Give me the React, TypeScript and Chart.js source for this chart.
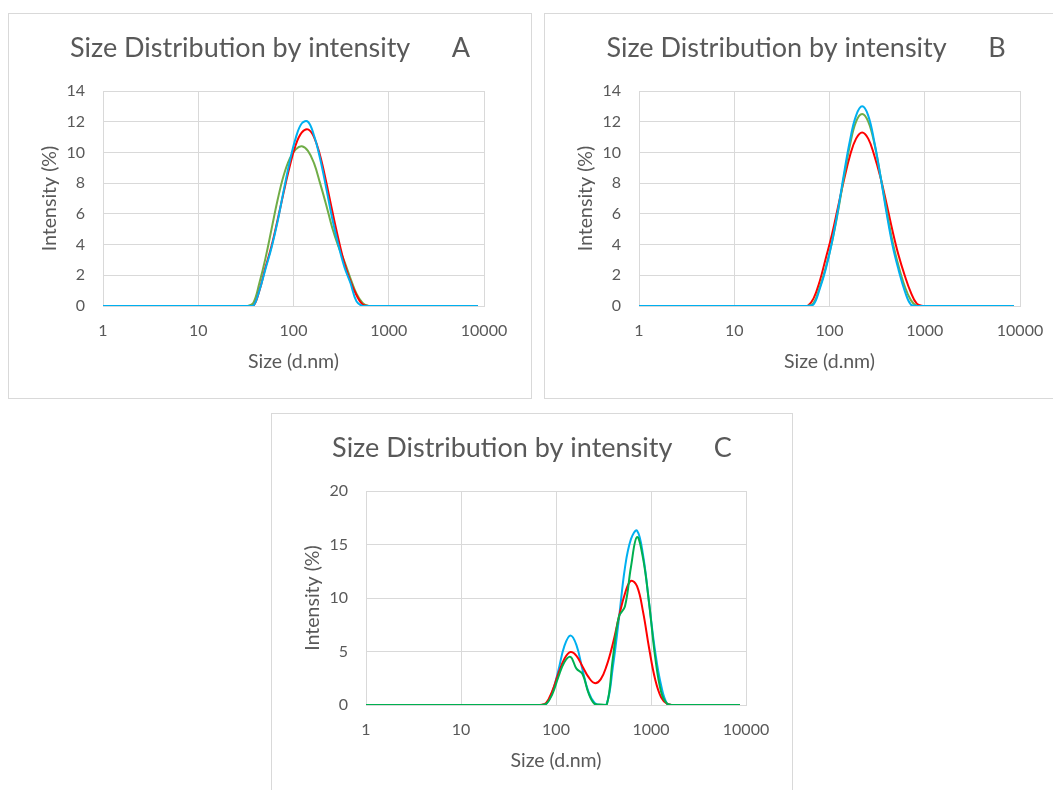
import React, { useEffect, useRef } from "react";
import { Chart, registerables } from "chart.js";

Chart.register(...registerables);

// Particle size bins (d.nm) of the DLS distribution
const sizes = [
  0.9649, 1.117, 1.294, 1.499, 1.736, 2.01, 2.328, 2.696, 3.122, 3.615,
  4.187, 4.849, 5.615, 6.503, 7.531, 8.721, 10.1, 11.7, 13.54, 15.69,
  18.17, 21.04, 24.36, 28.21, 32.67, 37.84, 43.82, 50.75, 58.77, 68.06,
  78.82, 91.28, 105.7, 122.4, 141.8, 164.2, 190.1, 220.2, 255.0, 295.3,
  342.0, 396.1, 458.7, 531.2, 615.1, 712.4, 825.0, 955.4, 1106, 1281,
  1484, 1718, 1990, 2305, 2669, 3091, 3580, 4145, 4801, 5560,
  6439, 7456, 8635,
];

const xTickValues = [1, 10, 100, 1000, 10000];

// Panel A
const blueA = [
  0, 0, 0, 0, 0, 0, 0, 0, 0, 0,
  0, 0, 0, 0, 0, 0, 0, 0, 0, 0,
  0, 0, 0, 0, 0, 0, 1.0, 2.4, 3.8, 5.5,
  7.5, 9.4, 10.95, 11.9, 12.0, 11.1, 9.6, 7.7, 5.7, 4.0,
  2.55, 1.5, 0.3, 0, 0, 0, 0, 0, 0, 0,
  0, 0, 0, 0, 0, 0, 0, 0, 0, 0,
  0, 0, 0,
];
const redA = [
  0, 0, 0, 0, 0, 0, 0, 0, 0, 0,
  0, 0, 0, 0, 0, 0, 0, 0, 0, 0,
  0, 0, 0, 0, 0, 0, 1.0, 2.5, 3.9, 5.6,
  7.4, 9.1, 10.5, 11.3, 11.5, 11.0, 9.8, 8.1, 6.2, 4.4,
  2.8, 1.6, 0.7, 0.1, 0, 0, 0, 0, 0, 0,
  0, 0, 0, 0, 0, 0, 0, 0, 0, 0,
  0, 0, 0,
];
const greenA = [
  0, 0, 0, 0, 0, 0, 0, 0, 0, 0,
  0, 0, 0, 0, 0, 0, 0, 0, 0, 0,
  0, 0, 0, 0, 0, 0.2, 1.5, 3.1, 5.0, 6.9,
  8.5, 9.6, 10.2, 10.4, 10.1, 9.3, 8.0, 6.6, 5.1, 3.9,
  2.9, 1.8, 0.8, 0.2, 0, 0, 0, 0, 0, 0,
  0, 0, 0, 0, 0, 0, 0, 0, 0, 0,
  0, 0, 0,
];

// Panel B
const blueB = [
  0, 0, 0, 0, 0, 0, 0, 0, 0, 0,
  0, 0, 0, 0, 0, 0, 0, 0, 0, 0,
  0, 0, 0, 0, 0, 0, 0, 0, 0, 0.1,
  1.1, 2.4, 4.1, 6.2, 8.6, 10.8, 12.4, 13.0, 12.4, 10.7,
  8.5, 6.1, 3.95, 2.35, 1.0, 0.1, 0, 0, 0, 0,
  0, 0, 0, 0, 0, 0, 0, 0, 0, 0,
  0, 0, 0,
];
const redB = [
  0, 0, 0, 0, 0, 0, 0, 0, 0, 0,
  0, 0, 0, 0, 0, 0, 0, 0, 0, 0,
  0, 0, 0, 0, 0, 0, 0, 0, 0, 0.5,
  1.6, 3.1, 4.6, 6.4, 8.2, 9.8, 10.9, 11.3, 10.9, 9.8,
  8.4, 6.7, 4.9, 3.3, 2.0, 0.9, 0.15, 0, 0, 0,
  0, 0, 0, 0, 0, 0, 0, 0, 0, 0,
  0, 0, 0,
];
const greenB = [
  0, 0, 0, 0, 0, 0, 0, 0, 0, 0,
  0, 0, 0, 0, 0, 0, 0, 0, 0, 0,
  0, 0, 0, 0, 0, 0, 0, 0, 0, 0.2,
  1.2, 2.5, 4.1, 6.1, 8.4, 10.5, 12.0, 12.5, 12.0, 10.6,
  8.5, 6.3, 4.2, 2.6, 1.3, 0.4, 0, 0, 0, 0,
  0, 0, 0, 0, 0, 0, 0, 0, 0, 0,
  0, 0, 0,
];

// Panel C
const blueC = [
  0, 0, 0, 0, 0, 0, 0, 0, 0, 0,
  0, 0, 0, 0, 0, 0, 0, 0, 0, 0,
  0, 0, 0, 0, 0, 0, 0, 0, 0, 0,
  0.1, 1.2, 3.2, 5.5, 6.5, 5.6, 3.3, 1.2, 0.2, 0,
  0.1, 3.5, 8.0, 12.8, 15.5, 16.3, 14.0, 9.5, 5.0, 1.8,
  0.1, 0, 0, 0, 0, 0, 0, 0, 0, 0,
  0, 0, 0,
];
const redC = [
  0, 0, 0, 0, 0, 0, 0, 0, 0, 0,
  0, 0, 0, 0, 0, 0, 0, 0, 0, 0,
  0, 0, 0, 0, 0, 0, 0, 0, 0, 0,
  0.2, 1.3, 2.9, 4.3, 4.95, 4.6, 3.6, 2.6, 2.05, 2.4,
  3.7, 5.7, 8.2, 10.4, 11.6, 11.1, 8.7, 5.3, 2.4, 0.7,
  0.1, 0, 0, 0, 0, 0, 0, 0, 0, 0,
  0, 0, 0,
];
const greenC = [
  0, 0, 0, 0, 0, 0, 0, 0, 0, 0,
  0, 0, 0, 0, 0, 0, 0, 0, 0, 0,
  0, 0, 0, 0, 0, 0, 0, 0, 0, 0,
  0.1, 1.0, 2.6, 4.0, 4.5, 3.4, 2.9, 1.1, 0.1, 0.05,
  0, 4.3, 8.25, 9.2, 12.9, 15.7, 13.7, 9.5, 4.5, 1.2,
  0.1, 0, 0, 0, 0, 0, 0, 0, 0, 0,
  0, 0, 0,
];

const TITLE_TEXT = "Size Distribution by intensity";
const X_TITLE = "Size (d.nm)";
const Y_TITLE = "Intensity (%)";

const BLUE = "#00b0f0";
const RED = "#ff0000";
const OLIVE = "#70ad47";
const GREEN = "#00b050";
const GRID = "#d9d9d9";
const TEXT = "#595959";
const FONT = "Lato, 'Open Sans', sans-serif";

type Series = { values: number[]; color: string };
type PanelCfg = {
  letter: string;
  left: number;
  top: number;
  width: number;
  height: number;
  chartLeft: number;
  chartRight: number;
  chartTop: number;
  chartBottom: number;
  yMax: number;
  yStep: number;
  series: Series[]; // first = drawn on top
};

const panels: PanelCfg[] = [
  {
    letter: "A", left: 8, top: 13, width: 524, height: 386,
    chartLeft: 95, chartRight: 476, chartTop: 78, chartBottom: 293,
    yMax: 14, yStep: 2,
    series: [
      { values: blueA, color: BLUE },
      { values: redA, color: RED },
      { values: greenA, color: OLIVE },
    ],
  },
  {
    letter: "B", left: 544, top: 13, width: 524, height: 386,
    chartLeft: 95, chartRight: 476, chartTop: 78, chartBottom: 293,
    yMax: 14, yStep: 2,
    series: [
      { values: blueB, color: BLUE },
      { values: greenB, color: OLIVE },
      { values: redB, color: RED },
    ],
  },
  {
    letter: "C", left: 271, top: 413, width: 522, height: 386,
    chartLeft: 95, chartRight: 475, chartTop: 78, chartBottom: 292,
    yMax: 20, yStep: 5,
    series: [
      { values: greenC, color: GREEN },
      { values: redC, color: RED },
      { values: blueC, color: BLUE },
    ],
  },
];

function DlsPanel({ cfg }: { cfg: PanelCfg }) {
  const ref = useRef<HTMLCanvasElement | null>(null);

  useEffect(() => {
    if (!ref.current) return;
    const titleSize = 27;
    const titleLH = titleSize * 1.2;
    const titleCenter = 35;
    const tickSize = 16;
    const axTitleSize = 19.5;
    const axLH = axTitleSize * 1.2;

    const chart = new Chart(ref.current, {
      type: "line",
      data: {
        datasets: cfg.series.map((s) => ({
          data: sizes.map((x, i) => ({ x, y: s.values[i] })),
          borderColor: s.color,
          backgroundColor: s.color,
          borderWidth: 2,
          pointRadius: 0,
          tension: 0.4,
          fill: false,
        })),
      },
      options: {
        responsive: false,
        animation: false,
        devicePixelRatio: 1,
        layout: { padding: { left: 0, top: 0, right: 0, bottom: 0 } },
        plugins: {
          legend: { display: false },
          tooltip: { enabled: false },
          title: {
            display: true,
            text: TITLE_TEXT + "      " + cfg.letter,
            color: TEXT,
            font: { family: FONT, size: titleSize, weight: "normal" },
            padding: {
              top: titleCenter - titleLH / 2,
              bottom: cfg.chartTop - (titleCenter - titleLH / 2) - titleLH,
            },
          },
        },
        scales: {
          x: {
            type: "logarithmic",
            min: 1,
            max: 10000,
            afterBuildTicks: (s: any) => {
              s.ticks = xTickValues.map((v) => ({ value: v }));
            },
            afterFit: (s: any) => {
              s.height = cfg.height - cfg.chartBottom;
            },
            ticks: {
              autoSkip: false,
              maxRotation: 0,
              color: TEXT,
              font: { family: FONT, size: tickSize },
              padding: 15.4,
              callback: (v: any) => String(v),
            },
            grid: { color: GRID, lineWidth: 1, drawTicks: false },
            border: { color: GRID, width: 1 },
            title: {
              display: true,
              text: X_TITLE,
              color: TEXT,
              font: { family: FONT, size: axTitleSize },
              padding: { top: 0, bottom: cfg.height - (cfg.chartBottom + 56) - axLH / 2 },
            },
          },
          y: {
            min: 0,
            max: cfg.yMax,
            afterFit: (s: any) => {
              s.width = cfg.chartLeft;
            },
            ticks: {
              stepSize: cfg.yStep,
              color: TEXT,
              font: { family: FONT, size: tickSize },
              padding: 18,
            },
            grid: { color: GRID, lineWidth: 1, drawTicks: false },
            border: { color: GRID, width: 1 },
            title: {
              display: true,
              text: Y_TITLE,
              color: TEXT,
              font: { family: FONT, size: axTitleSize },
              padding: { top: 42 - axLH / 2, bottom: 0 },
            },
          },
          spacer: {
            type: "linear",
            position: "right",
            display: true,
            afterFit: (s: any) => {
              s.width = cfg.width - cfg.chartRight;
            },
            ticks: { display: false },
            grid: { display: false, drawOnChartArea: false, drawTicks: false },
            border: { display: false },
          },
        },
      } as any,
    });
    return () => chart.destroy();
  }, [cfg]);

  return (
    <div
      style={{
        position: "absolute",
        left: cfg.left,
        top: cfg.top,
        width: cfg.width,
        height: cfg.height,
        background: "#ffffff",
      }}
    >
      <canvas
        ref={ref}
        width={cfg.width}
        height={cfg.height}
        style={{ display: "block", width: cfg.width, height: cfg.height }}
      />
      <div
        style={{
          position: "absolute",
          left: 0,
          top: 0,
          width: cfg.width,
          height: cfg.height,
          boxSizing: "border-box",
          border: "1px solid #d9d9d9",
          pointerEvents: "none",
        }}
      />
    </div>
  );
}

export default function App() {
  return (
    <div
      style={{
        position: "fixed",
        left: 0,
        top: 0,
        width: 1053,
        height: 790,
        overflow: "hidden",
        background: "#ffffff",
      }}
    >
      {panels.map((p) => (
        <DlsPanel key={p.letter} cfg={p} />
      ))}
    </div>
  );
}
